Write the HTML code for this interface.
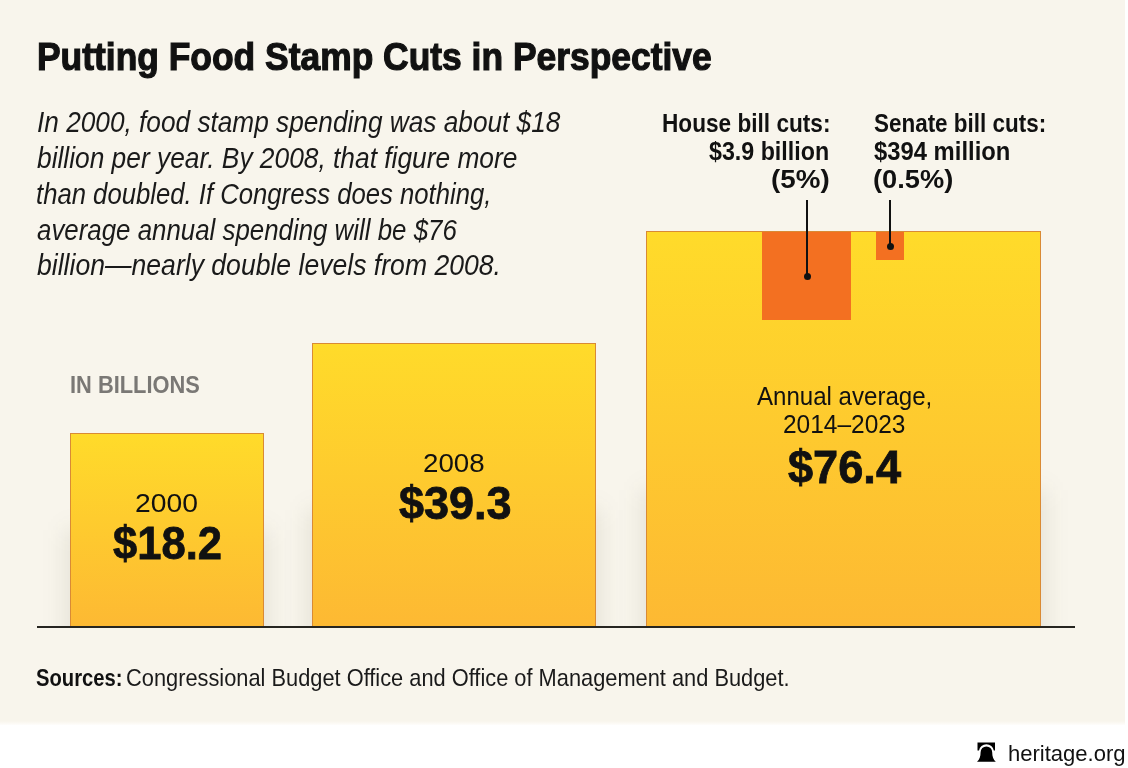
<!DOCTYPE html>
<html><head><meta charset="utf-8">
<style>
html,body{margin:0;padding:0;}
body{width:1128px;height:768px;position:relative;overflow:hidden;background:#ffffff;font-family:"Liberation Sans",sans-serif;}
.bg{position:absolute;left:0;top:0;width:1125px;height:725px;background:linear-gradient(to bottom,#f8f5ec 0,#f8f5ec 721px,#fefdfb 725px);}
.bar{position:absolute;box-sizing:border-box;border:1px solid #d98a35;border-bottom:none;background:linear-gradient(to bottom,#ffdb2a,#fdb933);}
.clip{position:absolute;left:0;top:0;width:1128px;height:626px;overflow:hidden;}
.shd{position:absolute;background:rgba(60,55,20,0.10);filter:blur(12px);}
.sq{position:absolute;background:#f37021;}
.vl{position:absolute;width:2px;background:#111;}
.dot{position:absolute;width:7px;height:7px;border-radius:50%;background:#111;}
.base{position:absolute;left:37px;top:626px;width:1038px;height:2px;background:#262520;}
.t{position:absolute;white-space:nowrap;transform-origin:0 0;}
</style></head><body>
<div class="bg"></div>
<div class="clip">
<div class="shd" style="left:66px;top:530px;width:202px;height:130px;"></div>
<div class="shd" style="left:308px;top:510px;width:292px;height:150px;"></div>
<div class="shd" style="left:642px;top:490px;width:403px;height:170px;"></div>
<div class="bar" style="left:70px;top:433px;width:194px;height:193px;"></div>
<div class="bar" style="left:312px;top:343px;width:284px;height:283px;"></div>
<div class="bar" style="left:646px;top:231px;width:395px;height:395px;"></div>
</div>
<div class="sq" style="left:762px;top:232px;width:89px;height:88px;"></div>
<div class="sq" style="left:876px;top:232px;width:28px;height:28px;"></div>
<div class="vl" style="left:806px;top:200px;height:76px;"></div>
<div class="dot" style="left:803.5px;top:272.7px;"></div>
<div class="vl" style="left:889px;top:200px;height:46px;"></div>
<div class="dot" style="left:886.5px;top:242.6px;"></div>
<div class="base"></div>
<svg style="position:absolute;left:972px;top:738px;" width="30" height="28" viewBox="0 0 30 28">
<path d="M5.5 4.6H23V12.6H21.8A7.48 7.48 0 0 0 7.0 12.6H5.5Z" fill="#000"/>
<path d="M5 23.7C7.5 21.5 8.6 18.5 8.6 14.2A5.8 5.8 0 0 1 20.2 14.2C20.2 18.5 21.3 21.5 23.8 23.7Z" fill="#000"/>
</svg>
<div id="title" class="t" style="left:36.98px;top:36.93px;font-size:39.70px;line-height:39.70px;font-weight:700;font-style:normal;color:#111;transform:scaleX(0.8920);-webkit-text-stroke:1.2px #111;">Putting Food Stamp Cuts in Perspective</div>
<div id="body1" class="t" style="left:36.92px;top:106.63px;font-size:30.30px;line-height:30.30px;font-weight:400;font-style:italic;color:#1a1a1a;transform:scaleX(0.8655);">In 2000, food stamp spending was about $18</div>
<div id="body2" class="t" style="left:37.48px;top:142.97px;font-size:30.30px;line-height:30.30px;font-weight:400;font-style:italic;color:#1a1a1a;transform:scaleX(0.8688);">billion per year. By 2008, that figure more</div>
<div id="body3" class="t" style="left:36.49px;top:178.55px;font-size:30.30px;line-height:30.30px;font-weight:400;font-style:italic;color:#1a1a1a;transform:scaleX(0.8476);">than doubled. If Congress does nothing,</div>
<div id="body4" class="t" style="left:37.08px;top:214.50px;font-size:30.30px;line-height:30.30px;font-weight:400;font-style:italic;color:#1a1a1a;transform:scaleX(0.8535);">average annual spending will be $76</div>
<div id="body5" class="t" style="left:37.46px;top:250.01px;font-size:30.30px;line-height:30.30px;font-weight:400;font-style:italic;color:#1a1a1a;transform:scaleX(0.8773);">billion—nearly double levels from 2008.</div>
<div id="house1" class="t" style="left:661.95px;top:109.95px;font-size:26.30px;line-height:26.30px;font-weight:700;font-style:normal;color:#111;transform:scaleX(0.8603);">House bill cuts:</div>
<div id="house2" class="t" style="left:708.82px;top:138.37px;font-size:26.30px;line-height:26.30px;font-weight:700;font-style:normal;color:#111;transform:scaleX(0.8836);">$3.9 billion</div>
<div id="house3" class="t" style="left:770.97px;top:165.99px;font-size:26.30px;line-height:26.30px;font-weight:700;font-style:normal;color:#111;transform:scaleX(1.0560);">(5%)</div>
<div id="senate1" class="t" style="left:874.03px;top:109.95px;font-size:26.30px;line-height:26.30px;font-weight:700;font-style:normal;color:#111;transform:scaleX(0.8535);">Senate bill cuts:</div>
<div id="senate2" class="t" style="left:874.48px;top:138.37px;font-size:26.30px;line-height:26.30px;font-weight:700;font-style:normal;color:#111;transform:scaleX(0.9057);">$394 million</div>
<div id="senate3" class="t" style="left:873.43px;top:165.99px;font-size:26.30px;line-height:26.30px;font-weight:700;font-style:normal;color:#111;transform:scaleX(1.0364);">(0.5%)</div>
<div id="billions" class="t" style="left:70.17px;top:372.85px;font-size:24.40px;line-height:24.40px;font-weight:700;font-style:normal;color:#7a7875;transform:scaleX(0.8953);">IN BILLIONS</div>
<div id="y2000" class="t" style="left:134.65px;top:489.61px;font-size:26.60px;line-height:26.60px;font-weight:400;font-style:normal;color:#111;transform:scaleX(1.0633);">2000</div>
<div id="v2000" class="t" style="left:113.20px;top:519.41px;font-size:47.00px;line-height:47.00px;font-weight:700;font-style:normal;color:#111;transform:scaleX(0.9264);-webkit-text-stroke:0.8px #111;">$18.2</div>
<div id="y2008" class="t" style="left:423.40px;top:449.61px;font-size:26.60px;line-height:26.60px;font-weight:400;font-style:normal;color:#111;transform:scaleX(1.0423);">2008</div>
<div id="v2008" class="t" style="left:398.60px;top:479.41px;font-size:47.00px;line-height:47.00px;font-weight:700;font-style:normal;color:#111;transform:scaleX(0.9576);-webkit-text-stroke:0.8px #111;">$39.3</div>
<div id="ann1" class="t" style="left:757.44px;top:383.60px;font-size:25.40px;line-height:25.40px;font-weight:400;font-style:normal;color:#111;transform:scaleX(0.9478);">Annual average,</div>
<div id="ann2" class="t" style="left:782.57px;top:410.74px;font-size:26.00px;line-height:26.00px;font-weight:400;font-style:normal;color:#111;transform:scaleX(0.9410);">2014–2023</div>
<div id="v76" class="t" style="left:787.54px;top:444.22px;font-size:46.00px;line-height:46.00px;font-weight:700;font-style:normal;color:#111;transform:scaleX(0.9816);-webkit-text-stroke:0.8px #111;">$76.4</div>
<div id="src1" class="t" style="left:36.40px;top:666.22px;font-size:24.20px;line-height:24.20px;font-weight:700;font-style:normal;color:#111;transform:scaleX(0.8348);">Sources:</div>
<div id="src2" class="t" style="left:126.20px;top:666.46px;font-size:24.20px;line-height:24.20px;font-weight:400;font-style:normal;color:#1a1a1a;transform:scaleX(0.9017);">Congressional Budget Office and Office of Management and Budget.</div>
<div id="herit" class="t" style="left:1008.06px;top:741.56px;font-size:22.80px;line-height:22.80px;font-weight:400;font-style:normal;color:#111;transform:scaleX(0.9664);">heritage.org</div>
</body></html>
